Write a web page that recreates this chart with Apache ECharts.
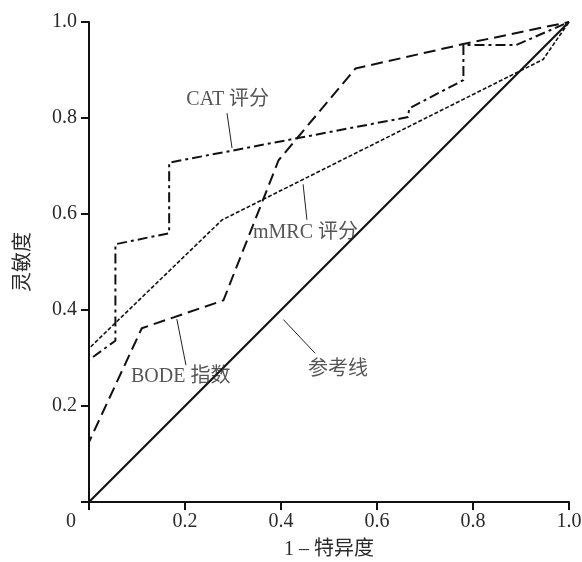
<!DOCTYPE html>
<html>
<head>
<meta charset="utf-8">
<script src="https://cdn.jsdelivr.net/npm/echarts@6/dist/echarts.min.js"></script>
<style>html,body{margin:0;padding:0;background:#fff}#c{width:582px;height:562px}</style>
</head>
<body>
<div id="c"></div>
<script>
// ---- data ----
const xTicks = [0, 0.2, 0.4, 0.6, 0.8, 1.0];
const refX = [0, 1];
const refY = [0, 1];
const bodeX = [0, 0, 0.11, 0.28, 0.395, 0.555, 0.78, 1];
const bodeY = [0, 0.125, 0.362, 0.42, 0.712, 0.903, 0.954, 1];
const catX = [0, 0, 0.055, 0.055, 0.167, 0.167, 0.665, 0.667, 0.78, 0.78, 0.89, 1];
const catY = [0, 0.296, 0.336, 0.537, 0.56, 0.707, 0.802, 0.82, 0.879, 0.952, 0.952, 1];
const mmrcX = [0, 0, 0.277, 0.946, 1];
const mmrcY = [0, 0.32, 0.5875, 0.922, 1];
const labelNames = ['CAT 评分', 'mMRC 评分', 'BODE 指数', '参考线'];
const labelX = [0.289, 0.451, 0.191, 0.519];
const labelY = [0.8375, 0.5604, 0.260, 0.275];
const leaderFrom = [[0.2875, 0.81], [0.446, 0.662], [0.183, 0.381], [0.405, 0.38]];
const leaderTo = [[0.298, 0.7375], [0.454, 0.588], [0.202, 0.285], [0.471, 0.31]];

const pairs = (xs, ys) => xs.map((x, i) => [x, ys[i]]);
const FONT = '"Liberation Serif", "Noto Sans CJK SC", serif';
const FS = 20;
const TXT = '#2a2a2a';
const lineSeries = (name, xs, ys, type, width) => ({
  name, type: 'line', data: pairs(xs, ys), symbol: 'none', silent: true,
  lineStyle: { color: '#111', width, type, cap: 'butt' }, z: 3
});

const chart = echarts.init(document.getElementById('c'));
chart.setOption({
  animation: false,
  backgroundColor: '#fff',
  grid: { left: 89, right: 13, top: 22, bottom: 60, containLabel: false, outerBoundsMode: 'none' },
  xAxis: {
    type: 'value', min: 0, max: 1, interval: 0.2,
    name: '1 – 特异度', nameLocation: 'middle', nameGap: 38,
    nameTextStyle: { fontFamily: FONT, fontSize: FS, color: TXT },
    axisLine: { lineStyle: { color: '#111', width: 2 } },
    axisTick: { inside: false, length: 8, lineStyle: { color: '#111', width: 2 } },
    splitLine: { show: false },
    axisLabel: {
      margin: 10, fontFamily: FONT, fontSize: FS, color: TXT,
      formatter: v => v === 0 ? '{o|0}' : v.toFixed(1),
      rich: { o: { fontFamily: FONT, fontSize: FS, color: TXT, padding: [0, 36, 0, 0] } }
    }
  },
  yAxis: {
    type: 'value', min: 0, max: 1, interval: 0.2,
    name: '灵敏度', nameLocation: 'middle', nameGap: 55, nameRotate: 90,
    nameTextStyle: { fontFamily: FONT, fontSize: FS, color: TXT },
    axisLine: { show: true, lineStyle: { color: '#111', width: 2 } },
    axisTick: { show: true, inside: false, length: 8, lineStyle: { color: '#111', width: 2 } },
    splitLine: { show: false },
    axisLabel: {
      margin: 12, fontFamily: FONT, fontSize: FS, color: TXT,
      formatter: v => v === 0 ? '' : v.toFixed(1)
    }
  },
  series: [
    lineSeries('参考线', refX, refY, 'solid', 2.2),
    lineSeries('BODE 指数', bodeX, bodeY, [12, 6], 2),
    lineSeries('CAT 评分', catX, catY, [10, 4, 3, 4], 2),
    lineSeries('mMRC 评分', mmrcX, mmrcY, [4, 2], 1.6),
    {
      type: 'lines', coordinateSystem: 'cartesian2d', silent: true, z: 4,
      lineStyle: { color: '#222', width: 1, opacity: 1 },
      data: leaderFrom.map((p, i) => ({ coords: [p, leaderTo[i]] }))
    },
    {
      type: 'scatter', symbolSize: 0, silent: true, z: 5,
      data: labelNames.map((n, i) => ({ name: n, value: [labelX[i], labelY[i]] })),
      label: {
        show: true, position: 'inside', formatter: p => p.name,
        fontFamily: FONT, fontSize: FS, color: TXT
      }
    }
  ]
});
</script>
</body>
</html>
